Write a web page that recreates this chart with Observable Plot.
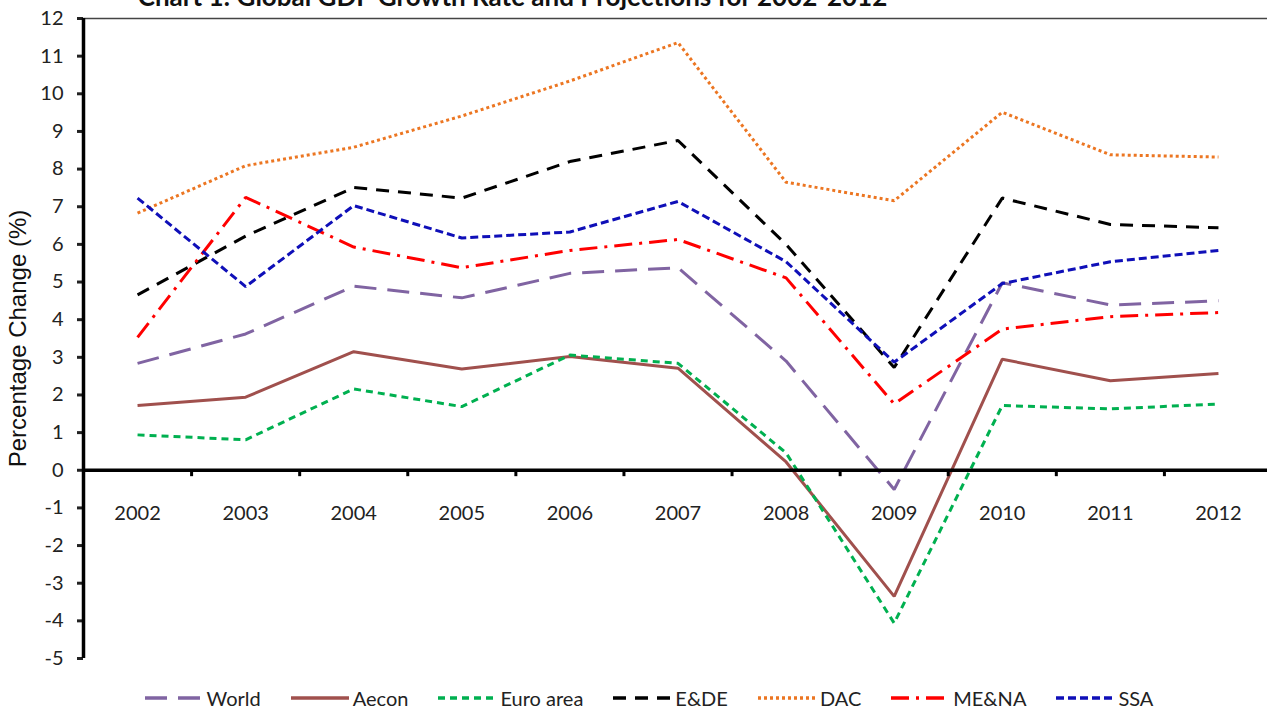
<!DOCTYPE html>
<html>
<head>
<meta charset="utf-8">
<script src="https://cdn.jsdelivr.net/npm/d3@7"></script>
<script src="https://cdn.jsdelivr.net/npm/@observablehq/plot@0.6"></script>
<style>
  html, body { margin: 0; padding: 0; background: #fff; }
  #wrap { position: relative; width: 1267px; height: 715px; overflow: hidden; background: #fff; }
  #title { position: absolute; top: -17px; left: 0; width: 1025px; text-align: center;
           font: bold 26px Lato, sans-serif; line-height: 26px; color: #111; white-space: nowrap; }
  #chart { position: absolute; top: 0; left: 0; }
  #legend { position: absolute; top: 686px; left: 0; width: 1267px; padding-left: 31px; box-sizing: border-box;
            display: flex; justify-content: center; gap: 30px; font: 20px Lato, sans-serif; color: #222; }
  .item { display: flex; align-items: center; gap: 4px; white-space: nowrap; }
</style>
</head>
<body>
<div id="wrap">
  <div id="chart"></div>
  <div id="title">Chart 1: Global GDP Growth Rate and Projections for 2002-2012</div>
  <div id="legend"></div>
</div>
<script>
// ---- data ----
const years = [2002, 2003, 2004, 2005, 2006, 2007, 2008, 2009, 2010, 2011, 2012];
const seriesNames = ["World", "Aecon", "Euro area", "E&DE", "DAC", "ME&NA", "SSA"];
const world    = [2.84, 3.62, 4.89, 4.58, 5.23, 5.38, 2.90, -0.51, 4.98, 4.39, 4.50];
const aecon    = [1.72, 1.94, 3.15, 2.69, 3.02, 2.71, 0.22, -3.35, 2.95, 2.38, 2.57];
const euroArea = [0.94, 0.81, 2.16, 1.69, 3.06, 2.84, 0.46, -4.06, 1.72, 1.63, 1.76];
const ede      = [4.66, 6.22, 7.51, 7.23, 8.20, 8.76, 6.00, 2.73, 7.23, 6.53, 6.44];
const dac      = [6.83, 8.09, 8.58, 9.41, 10.34, 11.36, 7.65, 7.16, 9.51, 8.38, 8.32];
const mena     = [3.53, 7.25, 5.93, 5.38, 5.84, 6.13, 5.11, 1.76, 3.75, 4.08, 4.19];
const ssa      = [7.23, 4.88, 7.03, 6.17, 6.33, 7.14, 5.54, 2.87, 4.96, 5.54, 5.84];
const yTicks = [-5, -4, -3, -2, -1, 0, 1, 2, 3, 4, 5, 6, 7, 8, 9, 10, 11, 12];
const yLabel = "Percentage Change (%)";

// ---- styles (kept apart from data) ----
const styles = {
  "World":     {color: "#8064A2", dash: "22,11"},
  "Aecon":     {color: "#A0504D", dash: null},
  "Euro area": {color: "#00B050", dash: "7,5"},
  "E&DE":      {color: "#000000", dash: "13,9"},
  "DAC":       {color: "#EC7622", dash: "3,3"},
  "ME&NA":     {color: "#FF0000", dash: "18,7,3,7"},
  "SSA":       {color: "#0F0FB8", dash: "8,4"}
};
const valuesBy = {"World": world, "Aecon": aecon, "Euro area": euroArea, "E&DE": ede, "DAC": dac, "ME&NA": mena, "SSA": ssa};

const rows = seriesNames.flatMap(name => years.map((yr, i) => ({series: name, year: yr, value: valuesBy[name][i]})));
const boundaries = years.slice(1).map(y => y - 0.5);
const xMin = years[0] - 0.5, xMax = years[years.length - 1] + 0.5;

const lineMarks = seriesNames.map(name => Plot.line(rows.filter(r => r.series === name), {
  x: "year", y: "value", stroke: styles[name].color, strokeWidth: 3,
  strokeDasharray: styles[name].dash, strokeLinejoin: "miter", strokeLinecap: "butt"
}));

const chart = Plot.plot({
  width: 1267,
  height: 675,
  marginLeft: 83,
  marginRight: 0,
  marginTop: 18,
  marginBottom: 17,
  x: {domain: [xMin, xMax], range: [83, 1272], axis: null},
  y: {domain: [yTicks[0], yTicks[yTicks.length - 1]], axis: null},
  style: {fontFamily: "Lato, sans-serif", background: "white", color: "#222"},
  marks: [
    Plot.ruleY([yTicks[yTicks.length - 1]], {stroke: "#444", strokeWidth: 1.5}),
    ...lineMarks,
    Plot.ruleY([0], {stroke: "#000", strokeWidth: 3.5}),
    Plot.ruleX(boundaries, {x: d => d, y1: 0, y2: -0.17, stroke: "#000", strokeWidth: 3}),
    Plot.text(years, {x: d => d, y: 0, dy: 43, text: d => String(d), fontSize: 20, fill: "#222"}),
    Plot.axisY({ticks: yTicks, tickSize: 6, strokeWidth: 3, tickPadding: 14, fontSize: 20,
                tickFormat: d => String(d), label: null, fill: "#222"}),
    Plot.ruleX([xMin], {stroke: "#000", strokeWidth: 3.5}),
    Plot.text([yLabel], {frameAnchor: "left", textAnchor: "middle", rotate: -90, dx: -65, dy: 0, fontSize: 24,
                         fontFamily: "Liberation Sans, Arial, sans-serif", fill: "#111"})
  ]
});
document.getElementById("chart").appendChild(chart);

// ---- legend ----
const legend = document.getElementById("legend");
for (const name of seriesNames) {
  const st = styles[name];
  const item = document.createElement("div");
  item.className = "item";
  const sw = `<svg width="58" height="20"><line x1="0" x2="58" y1="10" y2="10" stroke="${st.color}" stroke-width="3.5" ${st.dash ? `stroke-dasharray="${st.dash}"` : ""}/></svg>`;
  item.innerHTML = sw + `<span>${name.replace("&", "&amp;")}</span>`;
  legend.appendChild(item);
}
</script>
</body>
</html>
